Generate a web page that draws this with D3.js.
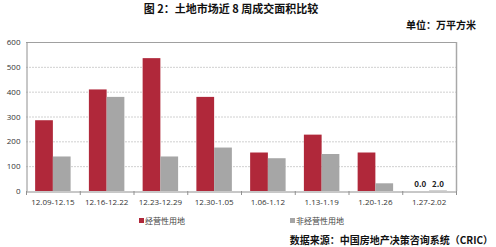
<!DOCTYPE html>
<html lang="zh">
<head>
  <meta charset="UTF-8">
  <title>土地市场近8周成交面积比较</title>
  <script src="https://d3js.org/d3.v7.min.js"></script>
  <style>
    body { margin: 0; background: #fff; }
    text { font-family: "Noto Sans CJK SC", "Noto Sans", sans-serif; }
  </style>
</head>
<body>
  <div id="chart"></div>
  <script>
    const weeks = ["12.09-12.15", "12.16-12.22", "12.23-12.29", "12.30-1.05",
                   "1.06-1.12", "1.13-1.19", "1.20-1.26", "1.27-2.02"];
    const commercial = [285, 409, 535, 379, 155, 227, 155, 0];
    const nonCommercial = [139, 379, 139, 175, 132, 149, 31, 2];
    const seriesNames = ["经营性用地", "非经营性用地"];
    const yTicks = [0, 100, 200, 300, 400, 500, 600];

    const width = 496, height = 247;
    const margin = { top: 42, right: 40, bottom: 56, left: 26 };
    const colors = ["#B0283A", "#A6A6A6"];

    const svg = d3.select("#chart").append("svg")
      .attr("width", width)
      .attr("height", height);

    const x = d3.scaleBand()
      .domain(weeks)
      .range([margin.left, width - margin.right])
      .paddingInner(0.34)
      .paddingOuter(0.17);

    const xInner = d3.scaleBand()
      .domain(seriesNames)
      .range([0, x.bandwidth()]);

    const y = d3.scaleLinear()
      .domain([0, 600])
      .range([height - margin.bottom, margin.top]);

    // gridlines
    svg.append("g")
      .selectAll("line")
      .data(yTicks.filter(d => d > 0 && d < 600))
      .enter()
      .append("line")
      .attr("x1", margin.left)
      .attr("x2", width - margin.right)
      .attr("y1", d => y(d) + 0.5)
      .attr("y2", d => y(d) + 0.5)
      .attr("stroke", "#d0d0d0")
      .attr("stroke-dasharray", "2,1");

    // frame top and right
    svg.append("line")
      .attr("x1", margin.left).attr("x2", width - margin.right)
      .attr("y1", y(600) + 0.5).attr("y2", y(600) + 0.5)
      .attr("stroke", "#a0a0a0");
    svg.append("line")
      .attr("x1", width - margin.right + 0.5).attr("x2", width - margin.right + 0.5)
      .attr("y1", y(600)).attr("y2", y(0))
      .attr("stroke", "#a8a8a8").attr("stroke-width", 1.5);

    const table = weeks.map((w, i) => ({ week: w, values: [commercial[i], nonCommercial[i]] }));

    const groups = svg.append("g")
      .selectAll("g")
      .data(table)
      .enter()
      .append("g")
      .attr("transform", d => `translate(${x(d.week)},0)`);

    groups.selectAll("rect")
      .data(d => d.values.map((v, k) => ({ name: seriesNames[k], value: v, k: k })))
      .enter()
      .append("rect")
      .attr("x", d => xInner(d.name))
      .attr("width", xInner.bandwidth())
      .attr("y", d => y(d.value))
      .attr("height", d => y(0) - y(d.value))
      .attr("fill", d => colors[d.k]);

    // value labels on the last week
    const last = table[table.length - 1];
    svg.append("g")
      .selectAll("text")
      .data(last.values)
      .enter()
      .append("text")
      .attr("x", (d, k) => x(last.week) + xInner(seriesNames[k]) + xInner.bandwidth() / 2)
      .attr("y", y(0) - 4)
      .attr("text-anchor", "middle")
      .attr("font-size", 8)
      .attr("font-weight", "bold")
      .attr("fill", "#222")
      .text(d => d.toFixed(1));

    // y axis
    const yAxis = svg.append("g")
      .attr("transform", `translate(${margin.left + 0.5},0)`)
      .call(d3.axisLeft(y).tickValues(yTicks).tickSize(0).tickPadding(6));
    yAxis.select(".domain").attr("stroke", "#909090");
    yAxis.selectAll("text").attr("font-size", 8).attr("fill", "#333")
      .style("font-family", "'Open Sans', 'DejaVu Sans', sans-serif");

    // x axis
    const xAxis = svg.append("g")
      .attr("transform", `translate(0,${y(0) + 0.5})`)
      .call(d3.axisBottom(x).tickSize(0).tickPadding(8).tickSizeOuter(0));
    xAxis.select(".domain").attr("stroke", "#909090");
    xAxis.selectAll("text").attr("font-size", 8).attr("fill", "#333")
      .style("font-family", "'Open Sans', 'DejaVu Sans', sans-serif");

    // tick marks at band boundaries
    const step = x.step();
    svg.append("g")
      .selectAll("line")
      .data(d3.range(weeks.length + 1))
      .enter()
      .append("line")
      .attr("x1", i => margin.left + i * (width - margin.left - margin.right) / weeks.length + 0.5)
      .attr("x2", i => margin.left + i * (width - margin.left - margin.right) / weeks.length + 0.5)
      .attr("y1", y(0))
      .attr("y2", y(0) + 4)
      .attr("stroke", "#909090");

    // legend
    const legendX = [139, 290];
    const legend = svg.append("g")
      .selectAll("g")
      .data(seriesNames)
      .enter()
      .append("g")
      .attr("transform", (d, i) => `translate(${legendX[i]},221)`);
    legend.append("rect")
      .attr("x", 0).attr("y", -3)
      .attr("width", 5).attr("height", 5)
      .attr("fill", (d, i) => colors[i]);
    legend.append("text")
      .attr("x", 6).attr("y", 3)
      .attr("font-size", 8)
      .attr("fill", "#444")
      .text(d => d);

    // title and notes
    svg.append("text")
      .attr("x", 231).attr("y", 13)
      .attr("text-anchor", "middle")
      .attr("font-size", 11)
      .attr("font-weight", "bold")
      .attr("fill", "#111")
      .text("图 2：土地市场近 8 周成交面积比较");

    svg.append("text")
      .attr("x", 476).attr("y", 29)
      .attr("text-anchor", "end")
      .attr("font-size", 10)
      .attr("font-weight", "bold")
      .attr("fill", "#111")
      .text("单位：万平方米");

    svg.append("text")
      .attr("x", 493).attr("y", 244)
      .attr("text-anchor", "end")
      .attr("font-size", 10)
      .attr("font-weight", "bold")
      .attr("fill", "#111")
      .text("数据来源：中国房地产决策咨询系统（CRIC）");
  </script>
</body>
</html>
